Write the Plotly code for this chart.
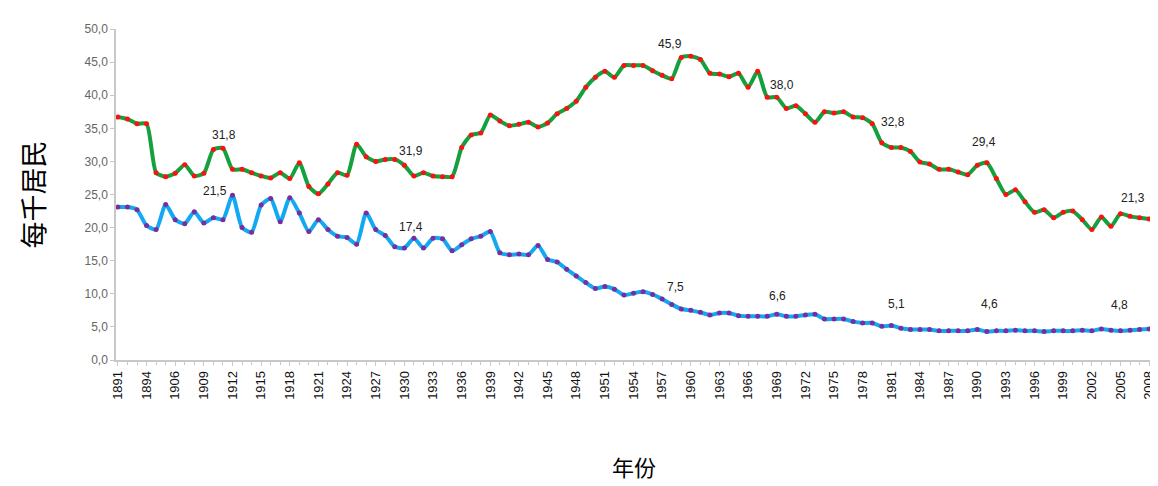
import plotly.graph_objects as go

years = ["1891", "1892", "1893", "1894", "1895", "1900",
         "1906", "1907", "1908", "1909", "1910", "1911", "1912", "1913", "1914", "1915", "1916", "1917", "1918", "1919",
         "1920", "1921", "1922", "1923", "1924", "1925", "1926", "1927", "1928", "1929",
         "1930", "1931", "1932", "1933", "1934", "1935", "1936", "1937", "1938", "1939",
         "1940", "1941", "1942", "1943", "1944", "1945", "1946", "1947", "1948", "1949",
         "1950", "1951", "1952", "1953", "1954", "1955", "1956", "1957", "1958", "1959",
         "1960", "1961", "1962", "1963", "1964", "1965", "1966", "1967", "1968", "1969",
         "1970", "1971", "1972", "1973", "1974", "1975", "1976", "1977", "1978", "1979",
         "1980", "1981", "1982", "1983", "1984", "1985", "1986", "1987", "1988", "1989",
         "1990", "1991", "1992", "1993", "1994", "1995", "1996", "1997", "1998", "1999",
         "2000", "2001", "2002", "2003", "2004", "2005", "2006", "2007", "2008"]

births = [36.7, 36.4, 35.7, 35.7, 28.3, 27.7,
          28.2, 29.5, 27.8, 28.2, 31.8, 32.0, 28.8, 28.8, 28.3, 27.8, 27.5, 28.3, 27.4, 29.8,
          26.2, 25.1, 26.6, 28.3, 27.9, 32.6, 30.7, 30.0, 30.3, 30.3,
          29.4, 27.8, 28.3, 27.8, 27.7, 27.7, 32.1, 34.0, 34.3, 37.0,
          36.1, 35.4, 35.6, 35.9, 35.2, 35.8, 37.2, 38.0, 39.1, 41.2,
          42.7, 43.6, 42.7, 44.5, 44.5, 44.5, 43.7, 43.0, 42.5, 45.7,
          45.9, 45.4, 43.3, 43.2, 42.8, 43.3, 41.2, 43.6, 39.7, 39.7,
          38.0, 38.4, 37.2, 35.9, 37.5, 37.3, 37.5, 36.7, 36.6, 35.7,
          32.8, 32.1, 32.1, 31.5, 29.9, 29.6, 28.8, 28.8, 28.4, 28.0,
          29.4, 29.8, 27.4, 25.0, 25.7, 23.9, 22.3, 22.7, 21.5, 22.3,
          22.5, 21.2, 19.7, 21.6, 20.2, 22.1, 21.7, 21.5, 21.3]

deaths = [23.1, 23.1, 22.7, 20.3, 19.7, 23.5,
          21.2, 20.6, 22.4, 20.7, 21.5, 21.2, 24.9, 20.0, 19.3, 23.4, 24.4, 20.9, 24.5, 22.2,
          19.4, 21.2, 19.7, 18.7, 18.5, 17.5, 22.2, 19.7, 18.8, 17.1,
          16.9, 18.4, 16.9, 18.4, 18.3, 16.5, 17.4, 18.3, 18.7, 19.4,
          16.2, 15.9, 16.0, 15.9, 17.3, 15.2, 14.8, 13.7, 12.7, 11.7,
          10.8, 11.1, 10.7, 9.8, 10.1, 10.3, 9.9, 9.2, 8.4, 7.7,
          7.5, 7.2, 6.8, 7.1, 7.1, 6.7, 6.6, 6.6, 6.6, 6.9,
          6.6, 6.6, 6.8, 6.9, 6.2, 6.2, 6.2, 5.8, 5.6, 5.6,
          5.1, 5.2, 4.8, 4.6, 4.6, 4.6, 4.4, 4.4, 4.4, 4.4,
          4.6, 4.3, 4.4, 4.4, 4.5, 4.4, 4.4, 4.3, 4.4, 4.4,
          4.4, 4.5, 4.4, 4.7, 4.5, 4.4, 4.5, 4.6, 4.7]

label_texts = ["31,8", "21,5", "31,9", "17,4", "45,9", "7,5", "38,0", "6,6",
               "32,8", "29,4", "5,1", "4,6", "21,3", "4,8"]
label_x = [11.1, 10.2, 30.7, 30.7, 57.8, 58.4, 69.5, 69.1, 81.2, 90.7, 81.5, 91.3, 106.3, 104.9]
label_y = [34.0, 25.5, 31.5, 20.1, 47.7, 11.1, 41.6, 9.7, 35.9, 33.0, 8.4, 8.4, 24.4, 8.3]

fig = go.Figure()
fig.add_trace(go.Scatter(
    x=years, y=births, mode="lines+markers", name="出生率",
    line=dict(color="#14A03C", width=4, shape="spline", smoothing=0.6),
    marker=dict(color="#FF1010", size=5),
))
fig.add_trace(go.Scatter(
    x=years, y=deaths, mode="lines+markers", name="死亡率",
    line=dict(color="#12A8F2", width=4, shape="spline", smoothing=0.6),
    marker=dict(color="#7A2E9E", size=5),
))

for t, xv, yv in zip(label_texts, label_x, label_y):
    fig.add_annotation(x=xv, y=yv, text=t, showarrow=False,
                       font=dict(family="Liberation Sans, Arial", size=12, color="#222222"))

fig.update_layout(
    width=1158, height=486,
    margin=dict(l=108, r=10, t=21, b=134),
    paper_bgcolor="white", plot_bgcolor="white",
    showlegend=False,
    separators=", ",
    font=dict(family="Liberation Sans, Arial", color="#222222"),
)
fig.update_xaxes(
    type="category",
    range=[-0.2, 108.3],
    tickmode="linear", tick0=0, dtick=3,
    tickangle=-90,
    ticklabeloverflow="allow",
    tickfont=dict(size=13, color="#111111"),
    ticks="outside", ticklen=4, tickcolor="#C8C8C8",
    minor=dict(ticks="outside", dtick=1, ticklen=3, tickcolor="#C8C8C8"),
    showline=True, linecolor="#C8C8C8", linewidth=1.5,
    showgrid=False, zeroline=False,
    title=dict(text="年份", font=dict(family="Noto Sans CJK SC", size=22, color="#000000"), standoff=62),
)
fig.update_yaxes(
    range=[0, 50], dtick=5, tickformat=".1f",
    tickfont=dict(size=12, color="#666666"),
    ticks="outside", ticklen=4, tickcolor="#C8C8C8",
    showline=True, linecolor="#C8C8C8", linewidth=1.5,
    showgrid=False, zeroline=False,
    title=dict(text="每千居民", font=dict(family="Noto Sans CJK SC", size=27, color="#000000"), standoff=32),
)

fig.write_html("out.html")
